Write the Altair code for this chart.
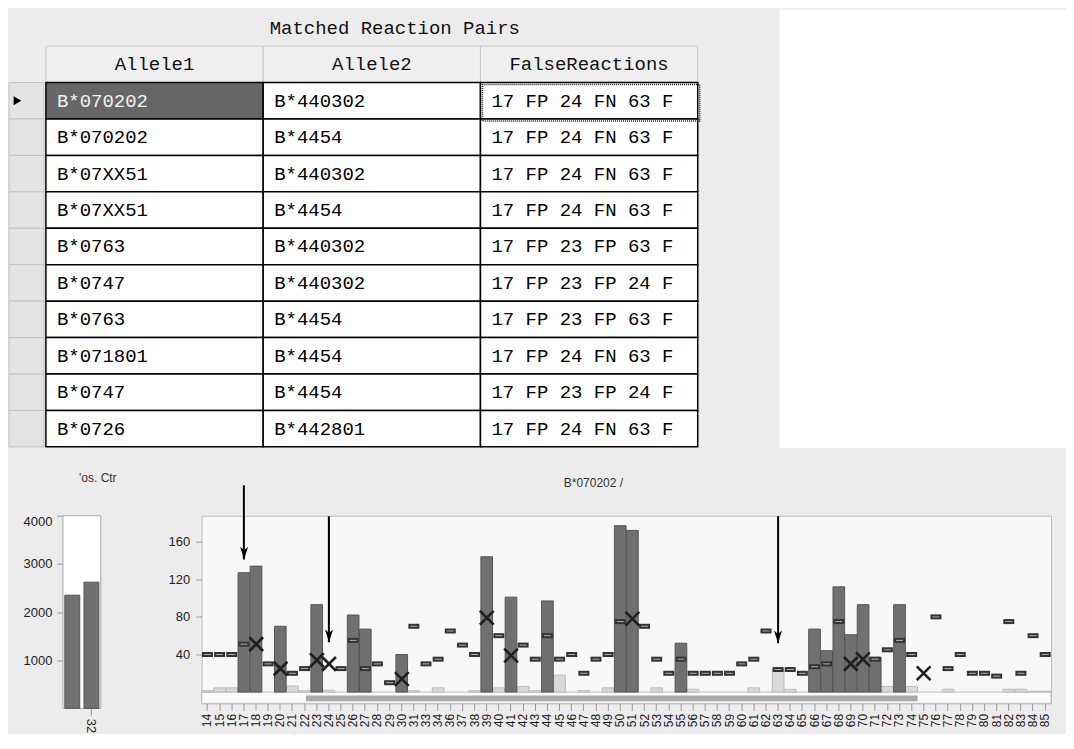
import altair as alt
import pandas as pd

# ---------------- table data ----------------
allele1 = ["B*070202", "B*070202", "B*07XX51", "B*07XX51", "B*0763",
           "B*0747", "B*0763", "B*071801", "B*0747", "B*0726"]
allele2 = ["B*440302", "B*4454", "B*440302", "B*4454", "B*440302",
           "B*440302", "B*4454", "B*4454", "B*4454", "B*442801"]
false_reactions = ["17 FP 24 FN 63 F", "17 FP 24 FN 63 F", "17 FP 24 FN 63 F",
                   "17 FP 24 FN 63 F", "17 FP 23 FP 63 F", "17 FP 23 FP 24 F",
                   "17 FP 23 FP 63 F", "17 FP 24 FN 63 F", "17 FP 23 FP 24 F",
                   "17 FP 24 FN 63 F"]
table_title = "Matched Reaction Pairs"
table_columns = ["Allele1", "Allele2", "FalseReactions"]
selected_row = 0

# ---------------- positive control ----------------
pos_ctrl_title = "'os. Ctr"
pos_ctrl_keys = ["32a", "32"]
pos_ctrl_values = [2350, 2620]
pos_ctrl_max = 4000

# ---------------- main panel ----------------
panel_title = "B*070202 /"
positions = ["14", "15", "16", "17", "18", "19", "20", "21", "22", "23", "24", "25",
             "26", "27", "28", "29", "30", "31", "33", "34", "36", "37", "38", "39",
             "40", "41", "42", "43", "44", "45", "46", "47", "48", "49", "50", "51",
             "52", "53", "54", "55", "56", "57", "58", "59", "60", "61", "62", "63",
             "64", "65", "66", "67", "68", "69", "70", "71", "72", "73", "74", "75",
             "76", "77", "78", "79", "80", "81", "82", "83", "84", "85"]

dark_pos = ["17", "18", "20", "23", "26", "27", "30", "39", "41", "44", "50", "51",
            "55", "66", "67", "68", "69", "70", "71", "73"]
dark_val = [127, 134, 70, 93, 82, 67, 40, 144, 101, 97, 177, 172,
            52, 67, 44, 112, 61, 93, 37, 93]

light_pos = ["14", "15", "16", "21", "22", "24", "31", "34", "38", "40", "42", "43",
             "45", "47", "49", "53", "56", "61", "63", "64", "72", "74", "77", "82",
             "83", "84", "85"]
light_val = [1.5, 4.5, 4.5, 6.5, 1.5, 2, 1.5, 4.5, 1.5, 4.5, 6, 1.5,
             18, 1.5, 4.5, 4.5, 3, 4.5, 24, 3, 6, 6, 3, 3,
             3, 1, 1]

dash_pos = ["14", "15", "16", "17", "19", "21", "22", "25", "26", "27", "28", "29",
            "31", "33", "34", "36", "37", "38", "40", "42", "43", "44", "45", "46",
            "47", "48", "49", "50", "52", "53", "54", "55", "56", "57", "58", "59",
            "60", "61", "62", "63", "64", "65", "66", "67", "68", "71", "72", "73",
            "74", "76", "77", "78", "79", "80", "81", "82", "83", "84", "85"]
dash_val = [40, 40, 40, 51, 30, 20, 25, 25, 55, 25, 30, 10,
            70, 30, 35, 65, 50, 40, 60, 50, 35, 60, 35, 40,
            20, 35, 40, 75, 70, 35, 20, 35, 20, 20, 20, 20,
            30, 35, 65, 24, 24, 20, 27, 30, 75, 35, 45, 55,
            40, 80, 25, 40, 20, 20, 17, 75, 20, 60, 40]

cross_pos = ["18", "20", "23", "24", "30", "39", "41", "51", "69", "70", "75"]
cross_val = [51, 25, 34, 30, 14, 79, 39, 78, 30, 35, 20]

arrow_pos = ["17", "24", "63"]
arrow_tip = [141, 53, 52]
arrow_top = [220, 187, 187]

strip_range = [0, 70]        # full position window
scroll_range = [8.6, 59.0]   # visible part shown by the scroller
strip_y = [-12, 0]
scroll_y = [-9.8, -3.6]

SANS = "Liberation Sans"
MONO = "Liberation Mono"
BG = "#ececec"

# ================= TABLE =================
rows = ["title", "header"] + [f"r{i}" for i in range(len(allele1))]
y_rows = alt.Scale(domain=rows, paddingInner=0, paddingOuter=0)
x_cols = alt.Scale(domain=table_columns, paddingInner=0, paddingOuter=0.186, align=0)

cell_records = []
for i, (a1, a2, fr) in enumerate(zip(allele1, allele2, false_reactions)):
    for c, t in zip(table_columns, [a1, a2, fr]):
        cell_records.append({
            "row": f"r{i}", "col": c, "text": t,
            "selected": (i == selected_row and c == "Allele1"),
            "focus": (i == selected_row and c == "FalseReactions"),
        })
cells = pd.DataFrame(cell_records)
header_df = pd.DataFrame({"row": ["header"] * 3, "col": table_columns, "text": table_columns})
title_df = pd.DataFrame({"row": ["title"], "col": ["Allele2"], "text": [table_title]})

X_T = alt.X("col:N", scale=x_cols, axis=None)
Y_T = alt.Y("row:N", scale=y_rows, axis=None)

cell_rects = alt.Chart(cells).mark_rect(stroke="black", strokeWidth=1.5).encode(
    x=X_T, y=Y_T,
    fill=alt.condition("datum.selected", alt.value("#666666"), alt.value("white")),
)
focus_rect = alt.Chart(cells).transform_filter("datum.focus").mark_rect(
    filled=False, color="#222", strokeDash=[1, 1], strokeWidth=1.5,
    xOffset=2, x2Offset=-2, yOffset=2, y2Offset=-2,
).encode(x=X_T, y=Y_T)
cell_text = alt.Chart(cells).mark_text(
    align="left", dx=11, font=MONO, fontSize=19, baseline="middle"
).encode(
    x=alt.X("col:N", scale=x_cols, axis=None, bandPosition=0), y=Y_T, text="text:N",
    color=alt.condition("datum.selected", alt.value("#f2f2f2"), alt.value("black")),
)
header_rects = alt.Chart(header_df).mark_rect(fill="#efefef", stroke="#c9c9c9", strokeWidth=1).encode(
    x=X_T, y=Y_T)
header_text = alt.Chart(header_df).mark_text(font=MONO, fontSize=19, color="#111").encode(
    x=X_T, y=Y_T, text="text:N")
title_text = alt.Chart(title_df).mark_text(font=MONO, fontSize=19, color="#111", dx=23).encode(
    x=X_T, y=Y_T, text="text:N")

grid = alt.layer(header_rects, cell_rects, focus_rect, cell_text, header_text, title_text).properties(
    width=734, height=438, view=alt.ViewBackground(fill=BG, strokeWidth=0))

sel_df = pd.DataFrame({"row": [f"r{i}" for i in range(len(allele1))], "col": ["sel"] * len(allele1),
                       "current": [i == selected_row for i in range(len(allele1))]})
X_S = alt.X("col:N", axis=None, scale=alt.Scale(paddingInner=0, paddingOuter=0))
sel_rects = alt.Chart(sel_df).mark_rect(fill="#e4e4e4", stroke="#c4c4c4", strokeWidth=1).encode(
    x=X_S, y=Y_T)
sel_mark = alt.Chart(sel_df).transform_filter("datum.current").mark_point(
    shape="triangle-right", filled=True, color="black", size=80, opacity=1, xOffset=-9).encode(
    x=X_S, y=Y_T)
selector = alt.layer(sel_rects, sel_mark).properties(
    width=35, height=438, view=alt.ViewBackground(fill=BG, strokeWidth=0))

filler = alt.Chart(pd.DataFrame({"a": [0]})).mark_point(opacity=0).encode(
    x=alt.X("a:Q", axis=None), y=alt.Y("a:Q", axis=None)
).properties(width=286, height=438, view=alt.ViewBackground(fill="white", stroke="white"))

top = alt.hconcat(selector, grid, filler, spacing=0)

# ================= POSITIVE CONTROL =================
pc_df = pd.DataFrame({"key": pos_ctrl_keys, "value": pos_ctrl_values})
pc_y = alt.Scale(domain=[0, pos_ctrl_max], nice=False)
pc_band = [54, 92]   # plot-frame span inside the panel (scale range)
pc_yaxis = alt.Axis(title=None, values=[1000, 2000, 3000, 4000], grid=False, domain=False,
                    format="d", tickColor="#999", tickSize=6, labelPadding=5, offset=-54,
                    labelFont=SANS, labelFontSize=13, labelColor="#222", labelFlush=True)
pc_frame = alt.Chart(pd.DataFrame({"f": ["frame"]})).mark_bar(
    fill="white", stroke="#a8a8a8", strokeWidth=1).encode(
    x=alt.X("f:N", axis=None, scale=alt.Scale(paddingInner=0, paddingOuter=0, range=pc_band)),
    y=alt.Y(datum=pos_ctrl_max, scale=pc_y, axis=pc_yaxis),
    y2=alt.datum(0),
)
pc_bars = alt.Chart(pc_df).mark_bar(color="#707070", stroke="#555555", strokeWidth=1).encode(
    x=alt.X("key:N", sort=pos_ctrl_keys,
            scale=alt.Scale(paddingInner=0.22, paddingOuter=0.1, range=pc_band),
            axis=alt.Axis(title=None, values=["32"], labelAngle=90, labelFont=SANS,
                          labelFontSize=13, labelColor="#222", tickColor="#999",
                          tickSize=7, domain=False, labelPadding=3)),
    y=alt.Y("value:Q", scale=pc_y, axis=pc_yaxis),
)
pos_ctrl = alt.layer(pc_frame, pc_bars).resolve_scale(x="independent").properties(
    width=92, height=193,
    title=alt.TitleParams(pos_ctrl_title, font=SANS, fontSize=12, fontWeight="normal",
                          color="#333", dx=43, offset=30, frame="group"),
    view=alt.ViewBackground(fill=BG, strokeWidth=0),
)

# ================= MAIN PANEL =================
x_scale = alt.Scale(domain=positions, paddingInner=0.04, paddingOuter=0)
y_scale = alt.Scale(domain=[-12, 187.6], nice=False, zero=False)
X_AX = alt.X("pos:N", scale=x_scale, sort=positions,
             axis=alt.Axis(title=None, labelAngle=-90, labelFont=SANS, labelFontSize=12,
                           labelColor="#222", tickColor="#9a9a9a", tickSize=7, domain=False,
                           labelPadding=3, labelOverlap=False))
X_NA = alt.X("pos:N", scale=x_scale, sort=positions, axis=None)
y_axis = alt.Axis(title=None, values=[40, 80, 120, 160], grid=False, domain=False,
                  tickColor="#9a9a9a", tickSize=6, labelPadding=6, labelFont=SANS,
                  labelFontSize=13, labelColor="#222", minExtent=40)
Y = alt.Y("v:Q", scale=y_scale, axis=y_axis)
X_IDX = alt.X("a:Q", scale=alt.Scale(domain=strip_range, nice=False, zero=False), axis=None)

strip = alt.Chart(pd.DataFrame({"a": [strip_range[0]], "b": [strip_range[1]],
                                "v": [strip_y[0]], "v2": [strip_y[1]]})).mark_rect(
    fill="#fbfbfb", stroke="#bdbdbd", strokeWidth=1).encode(x=X_IDX, x2="b:Q", y=Y, y2="v2:Q")
scroll = alt.Chart(pd.DataFrame({"a": [scroll_range[0]], "b": [scroll_range[1]],
                                 "v": [scroll_y[0]], "v2": [scroll_y[1]]})).mark_rect(
    fill="#aaaaaa").encode(x=X_IDX, x2="b:Q", y=Y, y2="v2:Q")

light = alt.Chart(pd.DataFrame({"pos": light_pos, "v": light_val})).mark_bar(
    color="#d9d9d9", stroke="#bcbcbc", strokeWidth=1).encode(x=X_AX, y=Y, y2=alt.datum(0))
dark = alt.Chart(pd.DataFrame({"pos": dark_pos, "v": dark_val})).mark_bar(
    color="#707070", stroke="#555555", strokeWidth=1).encode(x=X_NA, y=Y, y2=alt.datum(0))
dash_df = pd.DataFrame({"pos": dash_pos, "v": dash_val})
dash = alt.Chart(dash_df).mark_tick(color="#333333", size=11, thickness=5, opacity=1).encode(
    x=X_NA, y=Y)
dash_in = alt.Chart(dash_df).mark_tick(color="#b0b0b0", size=7, thickness=1, opacity=1).encode(
    x=X_NA, y=Y)
cross = alt.Chart(pd.DataFrame({"pos": cross_pos, "v": cross_val})).mark_point(
    shape="M-1,-1L1,1M-1,1L1,-1", size=190, filled=False, color="#1e1e1e",
    strokeWidth=2.6, opacity=1).encode(x=X_NA, y=Y)
arr_df = pd.DataFrame({"pos": arrow_pos, "v": arrow_tip, "top": arrow_top})
arrow_line = alt.Chart(arr_df).mark_rule(color="black", strokeWidth=2).encode(
    x=X_NA, y=Y, y2="top:Q")
arrow_head = alt.Chart(arr_df).mark_point(
    shape="M0,0L-0.5,-1.6L0,-1.15L0.5,-1.6Z", size=256, filled=True, color="black",
    opacity=1).encode(x=X_NA, y=Y)

main = alt.layer(strip, scroll, light, dark, dash, dash_in, cross, arrow_line, arrow_head).resolve_scale(
    x="independent").properties(
    width=851, height=188,
    title=alt.TitleParams(panel_title, font=SANS, fontSize=12, fontWeight="normal",
                          color="#333", dx=-33, offset=-6, frame="group"),
    view=alt.ViewBackground(fill="#f8f8f8", stroke="#bcbcbc"),
)

bottom = alt.hconcat(pos_ctrl, main, spacing=44)

chart = alt.vconcat(top, bottom, spacing=24).properties(
    background=BG, padding=0
)

chart.save("out.html", embed_options={"renderer": "svg", "actions": False})
